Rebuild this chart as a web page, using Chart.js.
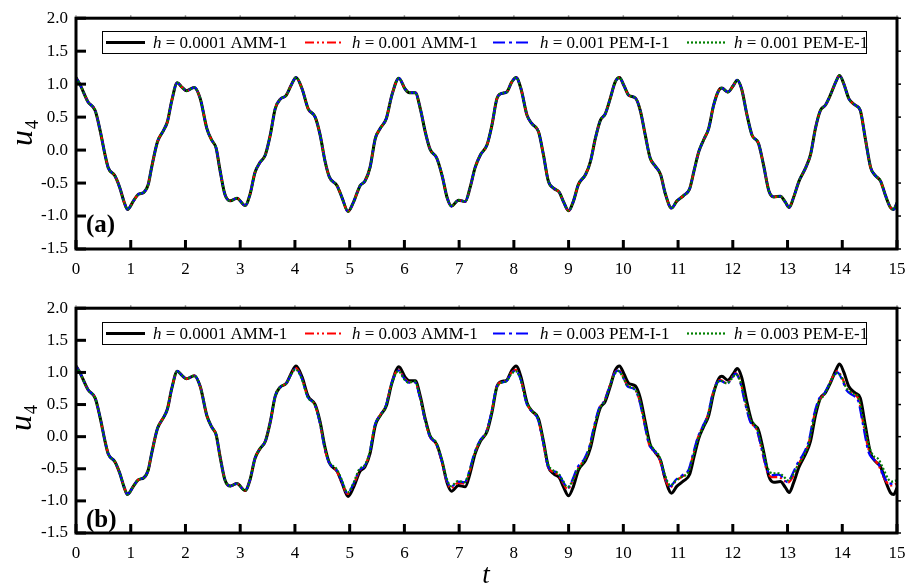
<!DOCTYPE html>
<html>
<head>
<meta charset="utf-8">
<script src="https://cdn.jsdelivr.net/npm/chart.js@4"></script>
<style>
  html, body { margin: 0; padding: 0; background: #fff; }
  #wrap { position: relative; width: 917px; height: 588px; }
  canvas { position: absolute; left: 0; }
</style>
</head>
<body>
<div id="wrap">
  <canvas id="chartA" width="917" height="290" style="top:0"></canvas>
  <canvas id="chartB" width="917" height="298" style="top:290px"></canvas>
</div>
<script>
// reference solution h = 0.0001 AMM-1 (same in both panels)
const refT = [0.00,0.07,0.22,0.35,0.44,0.53,0.59,0.71,0.80,0.88,0.94,1.05,1.14,1.24,1.32,1.38,1.49,1.60,1.67,1.75,
  1.85,1.94,2.02,2.16,2.27,2.39,2.48,2.56,2.63,2.72,2.82,2.94,3.09,3.18,3.27,3.36,3.46,3.55,3.64,3.73,
  3.84,3.94,4.02,4.13,4.24,4.37,4.46,4.55,4.63,4.77,4.86,4.97,5.07,5.19,5.28,5.37,5.47,5.56,5.67,5.77,
  5.90,6.01,6.09,6.20,6.29,6.38,6.47,6.59,6.69,6.78,6.86,6.99,7.11,7.20,7.29,7.39,7.51,7.60,7.69,7.78,
  7.87,7.96,8.04,8.13,8.24,8.33,8.45,8.54,8.63,8.73,8.83,8.91,9.00,9.09,9.18,9.31,9.40,9.49,9.58,9.67,
  9.76,9.85,9.93,10.01,10.10,10.22,10.31,10.40,10.49,10.58,10.68,10.77,10.88,10.98,11.10,11.21,11.29,11.38,11.47,11.56,
  11.65,11.74,11.80,11.91,12.01,12.08,12.16,12.26,12.35,12.47,12.56,12.66,12.75,12.87,12.96,13.03,13.11,13.21,13.33,13.42,
  13.51,13.60,13.69,13.78,13.88,13.95,14.03,14.12,14.24,14.33,14.42,14.52,14.61,14.70,14.79,14.88,14.94,15.00];
const refU = [1.10,1.00,0.73,0.60,0.30,-0.07,-0.27,-0.39,-0.57,-0.79,-0.90,-0.77,-0.67,-0.64,-0.52,-0.27,0.13,0.30,0.43,0.75,
  1.02,0.95,0.90,0.95,0.78,0.33,0.15,0.03,-0.30,-0.67,-0.77,-0.73,-0.84,-0.67,-0.34,-0.19,-0.07,0.23,0.63,0.77,
  0.83,1.00,1.10,0.93,0.63,0.50,0.23,-0.17,-0.41,-0.54,-0.72,-0.93,-0.79,-0.54,-0.47,-0.27,0.18,0.33,0.48,0.83,
  1.09,0.93,0.87,0.87,0.63,0.28,0.01,-0.12,-0.39,-0.72,-0.85,-0.76,-0.78,-0.57,-0.27,-0.07,0.08,0.38,0.78,0.86,
  0.88,1.03,1.10,0.93,0.53,0.40,0.28,-0.07,-0.47,-0.58,-0.64,-0.79,-0.92,-0.77,-0.52,-0.37,-0.17,0.18,0.45,0.55,
  0.78,1.03,1.10,0.98,0.83,0.79,0.60,0.23,-0.12,-0.24,-0.37,-0.67,-0.88,-0.77,-0.69,-0.59,-0.32,-0.02,0.16,0.33,
  0.68,0.90,0.94,0.88,0.98,1.06,0.93,0.53,0.23,0.10,-0.22,-0.62,-0.71,-0.70,-0.79,-0.87,-0.72,-0.47,-0.27,-0.07,
  0.33,0.60,0.68,0.83,1.03,1.13,1.00,0.78,0.68,0.60,0.18,-0.27,-0.39,-0.47,-0.69,-0.87,-0.90,-0.80];

// panel (b): h = 0.003 curves follow the reference until t ~ 3.9, then drift
const tailT = [3.94,4.01,4.12,4.23,4.36,4.45,4.54,4.62,4.76,4.85,4.96,5.06,5.18,5.27,5.36,5.46,5.55,5.66,5.76,5.89,
  6.00,6.08,6.19,6.28,6.37,6.46,6.58,6.68,6.77,6.85,6.98,7.10,7.19,7.28,7.38,7.50,7.59,7.68,7.77,7.86,
  7.95,8.03,8.12,8.23,8.32,8.44,8.53,8.62,8.71,8.81,8.90,8.98,9.07,9.16,9.29,9.38,9.47,9.56,9.65,9.74,
  9.83,9.91,9.99,10.08,10.20,10.29,10.38,10.47,10.56,10.66,10.75,10.86,10.96,11.08,11.19,11.27,11.36,11.45,11.54,11.63,
  11.72,11.78,11.89,11.99,12.05,12.13,12.23,12.32,12.44,12.53,12.63,12.72,12.84,12.93,13.00,13.08,13.18,13.30,13.39,13.48,
  13.57,13.66,13.75,13.85,13.91,13.99,14.08,14.20,14.29,14.38,14.48,14.57,14.66,14.75,14.84,14.90,15.00];
const pemITail = [0.98,1.06,0.92,0.62,0.50,0.23,-0.17,-0.40,-0.52,-0.68,-0.88,-0.75,-0.52,-0.46,-0.27,0.18,0.33,0.48,0.82,1.03,
  0.90,0.84,0.85,0.62,0.28,0.01,-0.11,-0.37,-0.67,-0.78,-0.70,-0.71,-0.52,-0.25,-0.06,0.09,0.38,0.76,0.84,0.86,
  0.98,1.03,0.90,0.52,0.40,0.27,-0.07,-0.45,-0.53,-0.57,-0.70,-0.80,-0.67,-0.48,-0.34,-0.15,0.18,0.45,0.55,0.76,
  0.97,1.03,0.93,0.78,0.74,0.57,0.22,-0.12,-0.22,-0.33,-0.60,-0.77,-0.67,-0.60,-0.52,-0.28,-0.01,0.16,0.33,0.66,
  0.85,0.87,0.82,0.92,0.98,0.86,0.50,0.23,0.10,-0.20,-0.52,-0.60,-0.59,-0.65,-0.71,-0.60,-0.42,-0.25,-0.06,0.33,
  0.58,0.66,0.80,0.95,1.00,0.90,0.72,0.64,0.56,0.18,-0.24,-0.35,-0.42,-0.60,-0.72,-0.73,-0.68];
const ammTail = [0.99,1.07,0.93,0.63,0.50,0.24,-0.17,-0.40,-0.53,-0.70,-0.89,-0.77,-0.53,-0.46,-0.27,0.18,0.33,0.48,0.82,1.04,
  0.91,0.85,0.85,0.63,0.28,0.01,-0.12,-0.38,-0.69,-0.80,-0.72,-0.73,-0.55,-0.27,-0.07,0.08,0.37,0.76,0.85,0.87,
  0.99,1.04,0.91,0.53,0.40,0.27,-0.07,-0.46,-0.55,-0.60,-0.72,-0.82,-0.70,-0.50,-0.36,-0.17,0.16,0.44,0.55,0.77,
  0.98,1.04,0.94,0.79,0.75,0.58,0.23,-0.12,-0.23,-0.35,-0.63,-0.79,-0.69,-0.62,-0.54,-0.30,-0.02,0.16,0.33,0.66,
  0.86,0.88,0.83,0.93,0.99,0.88,0.52,0.24,0.10,-0.21,-0.55,-0.63,-0.63,-0.68,-0.72,-0.65,-0.46,-0.28,-0.09,0.30,
  0.56,0.65,0.80,0.97,1.02,0.93,0.75,0.66,0.60,0.22,-0.20,-0.34,-0.44,-0.62,-0.74,-0.76,-0.73];
const pemETail = [0.98,1.05,0.91,0.62,0.50,0.25,-0.14,-0.38,-0.50,-0.66,-0.87,-0.74,-0.50,-0.45,-0.26,0.17,0.32,0.47,0.80,1.02,
  0.89,0.84,0.86,0.64,0.30,0.03,-0.09,-0.35,-0.65,-0.77,-0.69,-0.71,-0.53,-0.27,-0.07,0.07,0.36,0.74,0.84,0.86,
  0.97,1.02,0.90,0.54,0.41,0.29,-0.04,-0.42,-0.52,-0.57,-0.69,-0.79,-0.69,-0.52,-0.37,-0.18,0.14,0.42,0.54,0.75,
  0.96,1.02,0.93,0.79,0.75,0.60,0.26,-0.08,-0.20,-0.31,-0.57,-0.76,-0.68,-0.62,-0.55,-0.32,-0.05,0.13,0.31,0.63,
  0.84,0.87,0.83,0.91,0.97,0.88,0.55,0.28,0.13,-0.15,-0.47,-0.57,-0.57,-0.62,-0.68,-0.62,-0.46,-0.29,-0.10,0.27,
  0.54,0.64,0.79,0.96,0.99,0.92,0.75,0.67,0.62,0.28,-0.12,-0.30,-0.35,-0.50,-0.66,-0.70,-0.68];

const yTicks = [-1.5,-1.0,-0.5,0.0,0.5,1.0,1.5,2.0];
const xTicks = [0,1,2,3,4,5,6,7,8,9,10,11,12,13,14,15];

const FONT = '"Liberation Serif", "Times New Roman", serif';

function pts(ts, us) { return ts.map((t, i) => ({ x: t, y: us[i] })); }
const headN = refT.filter(t => t < 3.9).length;
function withHead(tail) { return pts(refT.slice(0, headN).concat(tailT), refU.slice(0, headN).concat(tail)); }

const styles = [
  { color: '#000000', width: 3.0, dash: [], order: 4 },
  { color: '#ff0000', width: 2.2, dash: [9, 3, 2, 3, 2, 3], order: 3 },
  { color: '#0000ff', width: 2.2, dash: [12, 4, 3, 4], order: 2 },
  { color: '#008000', width: 2.2, dash: [2, 2], order: 1 }
];

function makeDatasets(labels, series) {
  return series.map((data, i) => ({
    label: labels[i], data,
    borderColor: styles[i].color, borderWidth: styles[i].width, borderDash: styles[i].dash,
    order: styles[i].order, pointRadius: 0, fill: false, cubicInterpolationMode: 'monotone'
  }));
}

function decor(opt) {
  return {
    id: 'decor' + opt.tag,
    afterDraw(chart) {
      const { ctx, chartArea: a, scales: { x, y } } = chart;
      ctx.save();
      // inward ticks
      ctx.strokeStyle = '#000';
      ctx.lineWidth = 3;
      for (const v of xTicks) {
        const px = x.getPixelForValue(v);
        ctx.beginPath(); ctx.moveTo(px, a.bottom); ctx.lineTo(px, a.bottom - 9); ctx.stroke();
      }
      for (const v of yTicks) {
        const py = y.getPixelForValue(v);
        ctx.beginPath(); ctx.moveTo(a.left, py); ctx.lineTo(a.left + 10, py); ctx.stroke();
      }
      ctx.lineWidth = 1.5;
      for (const v of yTicks) {
        const py = y.getPixelForValue(v);
        ctx.beginPath(); ctx.moveTo(a.right, py); ctx.lineTo(a.right + 4, py); ctx.stroke();
      }
      ctx.strokeStyle = '#999';
      for (const v of xTicks) {
        const px = x.getPixelForValue(v);
        ctx.beginPath(); ctx.moveTo(px, a.top); ctx.lineTo(px, a.top - 3); ctx.stroke();
      }
      // frame
      ctx.strokeStyle = '#000';
      ctx.lineWidth = 3;
      ctx.strokeRect(a.left, a.top, a.right - a.left, a.bottom - a.top);

      // legend box
      const L = opt.legend;
      ctx.lineWidth = 1;
      ctx.fillStyle = '#fff';
      ctx.fillRect(L.x0, L.y0, L.x1 - L.x0, L.y1 - L.y0);
      ctx.strokeRect(L.x0 + 0.5, L.y0 + 0.5, L.x1 - L.x0, L.y1 - L.y0);
      const cy = (L.y0 + L.y1) / 2 + 0.5;
      const items = chart.data.datasets.slice().sort((p, q) => q.order - p.order);
      items.forEach((ds, i) => {
        const sx = L.items[i];
        ctx.strokeStyle = ds.borderColor;
        ctx.lineWidth = ds.borderWidth;
        ctx.setLineDash(ds.borderDash);
        ctx.beginPath(); ctx.moveTo(sx, cy); ctx.lineTo(sx + 39, cy); ctx.stroke();
        ctx.setLineDash([]);
        ctx.fillStyle = '#000';
        ctx.textBaseline = 'middle';
        ctx.textAlign = 'left';
        ctx.font = 'italic 17px ' + FONT;
        const tx = sx + 47;
        ctx.fillText('h', tx, cy + 1);
        const hw = ctx.measureText('h').width;
        ctx.font = '17px ' + FONT;
        ctx.fillText(ds.label, tx + hw, cy + 1);
      });

      // panel label
      ctx.fillStyle = '#000';
      ctx.textAlign = 'left';
      ctx.textBaseline = 'alphabetic';
      ctx.font = 'bold 25px ' + FONT;
      ctx.fillText(opt.panel, 86, opt.panelY);

      // y title u_4
      ctx.save();
      ctx.translate(opt.uX, opt.uY);
      ctx.rotate(-Math.PI / 2);
      ctx.textAlign = 'left';
      ctx.textBaseline = 'alphabetic';
      ctx.font = 'italic 32px ' + FONT;
      ctx.fillText('u', -9, 0);
      const uw = ctx.measureText('u').width;
      ctx.font = '18px ' + FONT;
      ctx.fillText('4', -9 + uw + 1, 6);
      ctx.restore();

      if (opt.tTitle) {
        ctx.font = 'italic 27px ' + FONT;
        ctx.textAlign = 'center';
        ctx.fillText('t', 486, opt.tTitle);
      }
      ctx.restore();
    }
  };
}

function build(id, datasets, xh, pad, opt) {
  return new Chart(document.getElementById(id), {
    type: 'line',
    data: { datasets },
    options: {
      responsive: false, animation: false, devicePixelRatio: 1,
      layout: { padding: pad },
      plugins: { legend: { display: false }, tooltip: { enabled: false } },
      scales: {
        x: {
          type: 'linear', min: 0, max: 15,
          afterBuildTicks: s => { s.ticks = xTicks.map(v => ({ value: v })); },
          afterFit: s => { s.height = xh; },
          grid: { display: false, drawTicks: false }, border: { display: false },
          ticks: { padding: 10, color: '#000', font: { family: FONT, size: 17 }, maxRotation: 0 }
        },
        y: {
          type: 'linear', min: -1.5, max: 2.0,
          afterBuildTicks: s => { s.ticks = yTicks.map(v => ({ value: v })); },
          afterFit: s => { s.width = 76; },
          grid: { display: false, drawTicks: false }, border: { display: false },
          ticks: { padding: 8, color: '#000', font: { family: FONT, size: 17 }, callback: v => v.toFixed(1) }
        }
      }
    },
    plugins: [decor(opt)]
  });
}

const legendItems = [106, 305, 493, 687];
const labelsA = [' = 0.0001 AMM-1', ' = 0.001 AMM-1', ' = 0.001 PEM-I-1', ' = 0.001 PEM-E-1'];
const labelsB = [' = 0.0001 AMM-1', ' = 0.003 AMM-1', ' = 0.003 PEM-I-1', ' = 0.003 PEM-E-1'];

// panel (a): the h = 0.001 curves lie on top of the reference
const refPts = pts(refT, refU);
build('chartA', makeDatasets(labelsA, [refPts, refPts, refPts, refPts]), 41,
  { left: 0, right: 20, top: 15, bottom: 0 },
  { tag: 'A', panel: '(a)', panelY: 232, uX: 32, uY: 137,
    legend: { x0: 102, y0: 31, x1: 866, y1: 53, items: legendItems } });

build('chartB', makeDatasets(labelsB, [refPts, withHead(ammTail), withHead(pemITail), withHead(pemETail)]), 55,
  { left: 0, right: 20, top: 11, bottom: 0 },
  { tag: 'B', panel: '(b)', panelY: 237, uX: 31, uY: 132, tTitle: 293,
    legend: { x0: 102, y0: 32, x1: 866, y1: 54, items: legendItems } });
</script>
</body>
</html>
